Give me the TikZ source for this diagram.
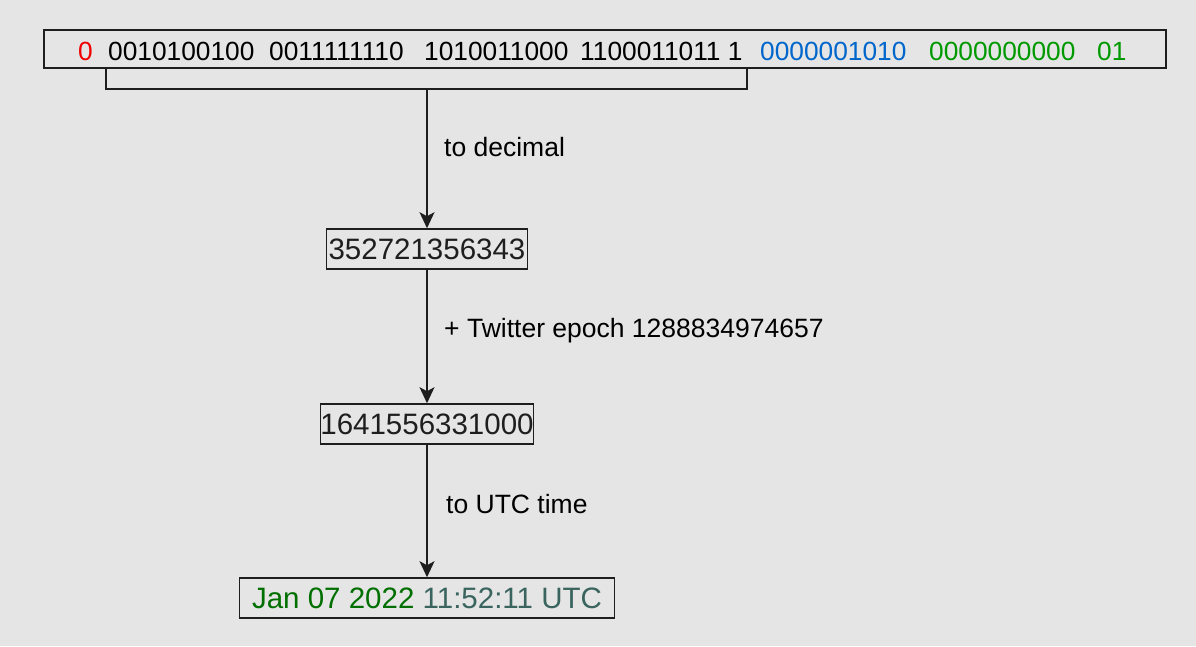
\documentclass[tikz,border=0pt]{standalone}
\usepackage{fontspec}
\setmainfont{Liberation Sans}
\usetikzlibrary{arrows.meta}
\definecolor{bg}{HTML}{E5E5E5}
\definecolor{bitred}{HTML}{F00000}
\definecolor{bitblue}{HTML}{0066CC}
\definecolor{bitgreen}{HTML}{009900}
\definecolor{dategreen}{HTML}{006F00}
\definecolor{timeslate}{HTML}{3A645E}
\definecolor{ink}{HTML}{1E1E1E}
\tikzset{
  bitstxt/.style={anchor=base west, inner sep=0pt, font=\fontsize{26.3}{30}\selectfont},
  valbox/.style={draw=ink, line width=1.6pt, minimum height=40pt, inner sep=0pt, text=ink, font=\fontsize{29.5}{34}\selectfont},
  lbl/.style={anchor=base west, inner sep=0pt, font=\fontsize{26.5}{31}\selectfont},
  conn/.style={line width=1.5pt, draw=ink, -{Stealth[length=16pt,width=15pt,inset=4pt]}},
  brk/.style={line width=1.5pt, draw=ink}
}
\begin{document}
\begin{tikzpicture}[x=1pt,y=-1pt]
\fill[bg] (0,0) rectangle (1196,646);
\useasboundingbox (0,0) rectangle (1196,646);
% top bit string box
\node[draw=ink, line width=1.8pt, minimum width=1122pt, minimum height=38pt, inner sep=0pt] (bits) at (605,49) {};
\node[bitstxt, text=bitred] (b0) at (78,60) {0};
\node[bitstxt] (b1) at (108,60) {0010100100};
\node[bitstxt] (b2) at (269,60) {0011111110};
\node[bitstxt] (b3) at (424,60) {1010011000};
\node[bitstxt] (b4) at (580,60) {1100011011 1};
\node[bitstxt, text=bitblue] (b5) at (760,60) {0000001010};
\node[bitstxt, text=bitgreen] (b6) at (929,60) {0000000000};
\node[bitstxt, text=bitgreen] (b7) at (1097,60) {01};
% bracket
\coordinate (brl) at (106,68);
\coordinate (brr) at (747,68);
\coordinate (brm) at (427,89);
\draw[brk] (brl) -- (106,89) -- (747,89) -- (brr);
% value boxes
\node[valbox, minimum width=201pt] (n1) at (427,249) {352721356343};
\node[valbox, minimum width=213pt] (n2) at (427,424) {1641556331000};
\node[valbox, minimum width=375pt] (n3) at (427,598) {\textcolor{dategreen}{Jan 07 2022} \textcolor{timeslate}{11:52:11 UTC}};
% connectors
\draw[conn] (brm) -- (n1.north);
\draw[conn] (n1.south) -- (n2.north);
\draw[conn] (n2.south) -- (n3.north);
% labels
\node[lbl] (l1) at (444,156) {to decimal};
\node[lbl] (l2) at (444,337) {+ Twitter epoch 1288834974657};
\node[lbl] (l3) at (446,513) {to UTC time};
\end{tikzpicture}
\end{document}
